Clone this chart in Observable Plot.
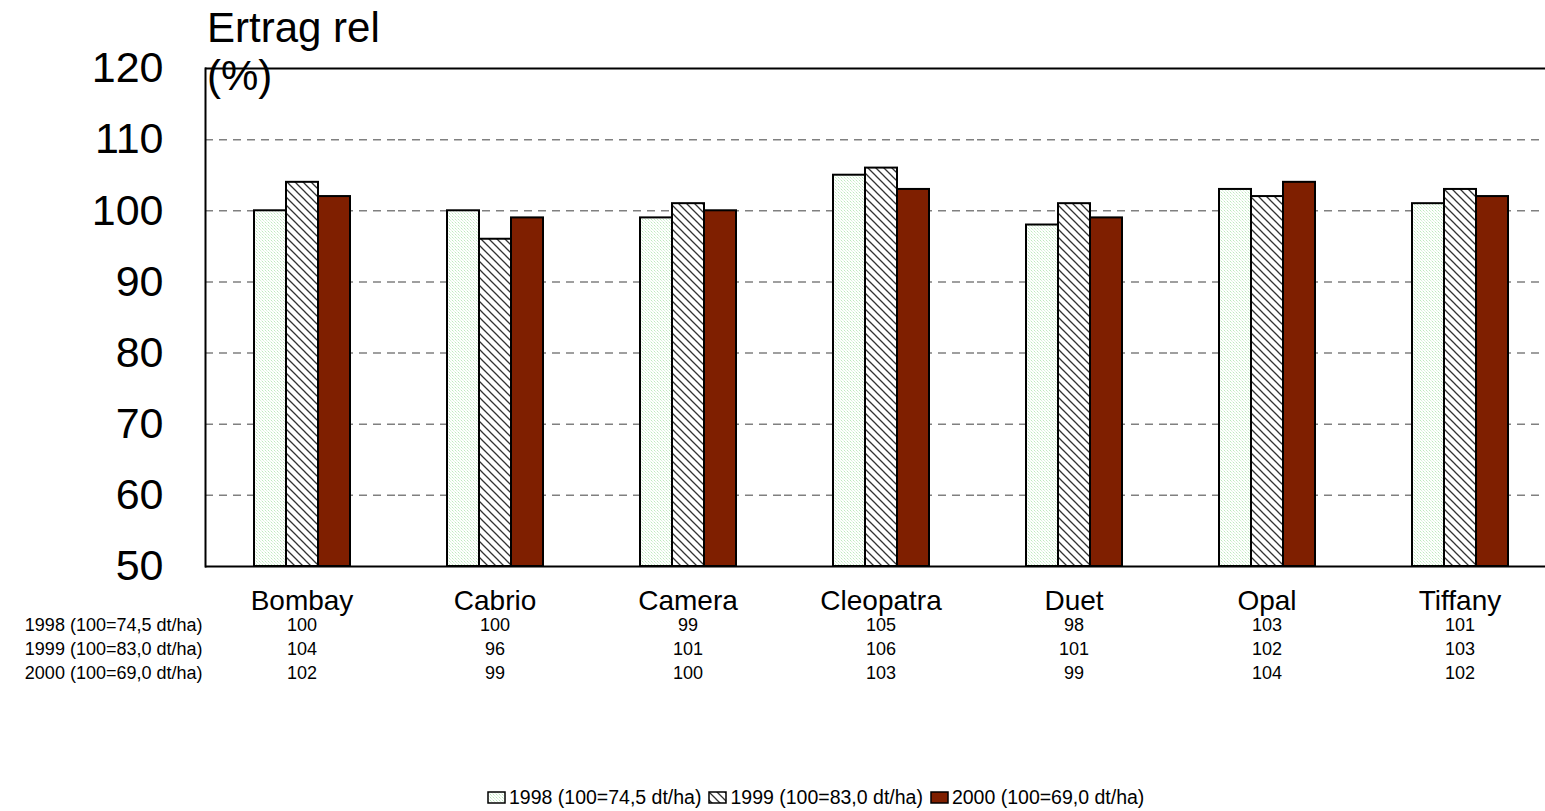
<!DOCTYPE html>
<html>
<head>
<meta charset="utf-8">
<script src="https://cdn.jsdelivr.net/npm/d3@7"></script>
<script src="https://cdn.jsdelivr.net/npm/@observablehq/plot@0.6"></script>
<style>
  html, body { margin: 0; padding: 0; background: #fff; overflow: hidden; }
  body { position: relative; width: 1545px; height: 811px; font-family: "Liberation Sans", Arial, sans-serif; color: #000; }
  #title { position: absolute; left: 207px; top: 4px; font-size: 42px; line-height: 48px; z-index: 2; pointer-events: none; }
  #chart { position: absolute; left: 0; top: 0; }
  #legend { position: absolute; left: 487px; top: 786px; display: flex; align-items: center; font-size: 19.5px; line-height: 22px; white-space: pre; }
  #legend .item { display: flex; align-items: center; margin-right: 7px; }
  #legend svg { margin-right: 2px; display: block; }
</style>
</head>
<body>
<svg width="0" height="0" style="position:absolute">
  <defs>
    <pattern id="p1998" width="3" height="3" patternUnits="userSpaceOnUse">
      <rect width="3" height="3" fill="#ffffff"/>
      <rect x="0" y="0" width="1" height="1" fill="#bfeabf"/>
      <rect x="1" y="1" width="1" height="1" fill="#d8f3d8"/>
      <rect x="2" y="2" width="1" height="1" fill="#e6f7e6"/>
    </pattern>
    <pattern id="p1999" width="8" height="8" patternUnits="userSpaceOnUse">
      <rect width="8" height="8" fill="#ffffff"/>
      <path d="M-2,-2 L10,10 M-2,6 L2,10 M6,-2 L10,2" stroke="#333" stroke-width="1.3"/>
    </pattern>
  </defs>
</svg>
<div id="title">Ertrag rel<br>(%)</div>
<div id="chart"></div>
<div id="legend"></div>
<script>
// ---- data ----
const varieties = ["Bombay", "Cabrio", "Camera", "Cleopatra", "Duet", "Opal", "Tiffany"];
const years = ["1998", "1999", "2000"];
const seriesLabels = ["1998 (100=74,5 dt/ha)", "1999 (100=83,0 dt/ha)", "2000 (100=69,0 dt/ha)"];
const values1998 = [100, 100, 99, 105, 98, 103, 101];
const values1999 = [104, 96, 101, 106, 101, 102, 103];
const values2000 = [102, 99, 100, 103, 99, 104, 102];
const yTicks = [50, 60, 70, 80, 90, 100, 110, 120];
const gridTicks = [60, 70, 80, 90, 100, 110];
const yMin = 50, yMax = 120;

// ---- styles ----
const fills = ["url(#p1998)", "url(#p1999)", "#7f1f00"];

const seriesValues = [values1998, values1999, values2000];
const tidy = [];
years.forEach((yr, i) => {
  varieties.forEach((v, j) => tidy.push({variety: v, year: yr, value: seriesValues[i][j], row: i}));
});

const marks = [
  Plot.ruleY(gridTicks, {stroke: "#808080", strokeWidth: 1.5, strokeDasharray: "8,6"}),
  Plot.barY(tidy, {fx: "variety", x: "year", y1: yMin, y2: "value", fill: "year", stroke: "#000", strokeWidth: 2}),
  Plot.ruleY([yMax], {stroke: "#000", strokeWidth: 2}),
  Plot.ruleY([yMin], {stroke: "#000", strokeWidth: 2}),
  Plot.frame({anchor: "left", facetAnchor: "left", stroke: "#000", strokeWidth: 2}),
  Plot.axisY({ticks: yTicks, tickSize: 0, tickPadding: 42, fontSize: 43, label: null, tickFormat: d => String(d)}),
  Plot.axisFx({anchor: "bottom", tickSize: 0, tickPadding: 24, fontSize: 28, label: null})
];

// data table under the categories
years.forEach((yr, i) => {
  const rows = tidy.filter(d => d.year === yr);
  marks.push(Plot.text(rows, {fx: "variety", text: d => String(d.value), frameAnchor: "bottom", dy: 64 + 24 * i, fontSize: 18}));
  marks.push(Plot.text([{label: seriesLabels[i], variety: varieties[0]}], {fx: "variety", text: "label", frameAnchor: "bottom-left", textAnchor: "end", dx: -3, dy: 64 + 24 * i, fontSize: 18}));
});

const chart = Plot.plot({
  width: 1560,
  height: 696,
  marginTop: 68,
  marginBottom: 130,
  marginLeft: 204,
  marginRight: 3,
  style: {fontFamily: "'Liberation Sans', Arial, sans-serif", background: "transparent", maxWidth: "none", overflow: "visible", color: "#000"},
  fx: {domain: varieties, padding: 0, label: null},
  x: {domain: years, paddingInner: 0, paddingOuter: 1.49, axis: null},
  y: {domain: [yMin, yMax], axis: null},
  color: {domain: years, range: fills},
  marks
});
document.getElementById("chart").appendChild(chart);

// legend
const legend = d3.select("#legend");
years.forEach((yr, i) => {
  const item = legend.append("div").attr("class", "item");
  const sw = item.append("svg").attr("width", 20).attr("height", 13);
  sw.append("rect").attr("x", 1).attr("y", 1).attr("width", 17).attr("height", 11)
    .attr("fill", fills[i]).attr("stroke", "#000").attr("stroke-width", 1.5);
  item.append("span").text(seriesLabels[i]);
});
</script>
</body>
</html>
